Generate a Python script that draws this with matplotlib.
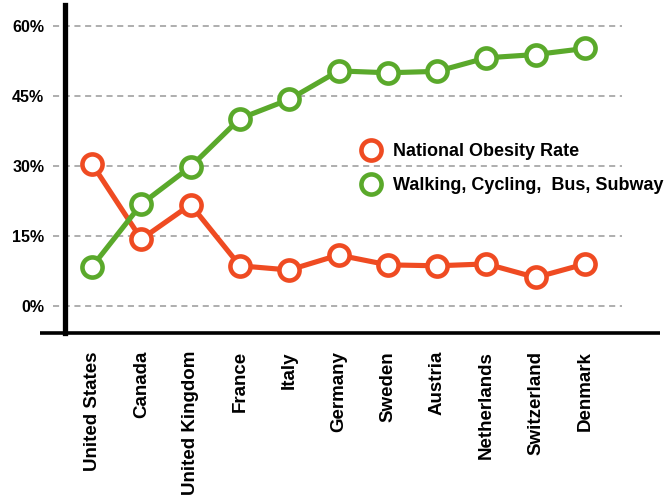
import matplotlib
matplotlib.use('Agg')
import matplotlib.pyplot as plt
from matplotlib.lines import Line2D

countries = ['United States', 'Canada', 'United Kingdom', 'France', 'Italy',
             'Germany', 'Sweden', 'Austria', 'Netherlands', 'Switzerland', 'Denmark']
obesity = [30.4, 14.3, 21.7, 8.6, 7.7, 10.9, 8.8, 8.6, 9.0, 6.1, 9.0]
active = [8.4, 21.8, 29.8, 40.1, 44.2, 50.3, 49.9, 50.2, 53.1, 53.8, 55.1]
yticks = [0, 15, 30, 45, 60]
labels = ['National Obesity Rate', 'Walking, Cycling,  Bus, Subway']

orange = '#EF4B22'
green = '#5AA92B'

plt.rcParams['font.family'] = ['Liberation Sans', 'DejaVu Sans']
plt.rcParams['font.weight'] = 'bold'

fig = plt.figure(figsize=(6.65, 5.01), dpi=100)
ax = fig.add_axes([65 / 665, 1 - 333 / 501, 595 / 665, 328 / 501])

x = list(range(len(countries)))
ax.set_xlim(-0.548, 11.52)
ax.set_ylim(-5.78, 64.4)

# dashed guide lines, running a bit past the left spine
ax.hlines(yticks, -0.79, 10.75, colors='#999999', linewidth=1.1,
          linestyles=(0, (4, 3)), clip_on=False, zorder=1)

style = dict(linewidth=3.7, marker='o', markersize=14.5, markeredgewidth=3.3,
             markerfacecolor='white', zorder=3)
ax.plot(x, obesity, color=orange, markeredgecolor=orange, **style)
ax.plot(x, active, color=green, markeredgecolor=green, **style)

for s in ['top', 'right', 'bottom']:
    ax.spines[s].set_visible(False)
ax.spines['left'].set_linewidth(3.8)
ax.spines['left'].set_zorder(5)
# bottom axis line sticks out left of the y axis
ax.plot([-1.05, 11.52], [-5.78, -5.78], color='black', linewidth=2.6,
        clip_on=False, zorder=5, solid_capstyle='butt')

ax.set_yticks(yticks)
ax.set_yticklabels([f'{v}%' for v in yticks], fontsize=11.5, fontweight='bold')
ax.tick_params(axis='y', length=0, pad=15)
ax.set_xticks(x)
ax.set_xticklabels(countries, rotation=90, fontsize=13.5, fontweight='bold',
                   va='top', ha='center')
ax.tick_params(axis='x', length=0, pad=13)

handles = [Line2D([], [], linestyle='none', marker='o', markersize=14.5,
                  markeredgewidth=3.3, markerfacecolor='white',
                  markeredgecolor=c) for c in (orange, green)]
ax.legend(handles, labels, loc='upper left', bbox_to_anchor=(362 / 665, 1 - 143 / 501),
          bbox_transform=fig.transFigure, frameon=False,
          handlelength=1.0, handletextpad=0.7, labelspacing=0.95,
          borderpad=0, borderaxespad=0, prop={'weight': 'bold', 'size': 13})

fig.savefig('out.png', dpi=100)
